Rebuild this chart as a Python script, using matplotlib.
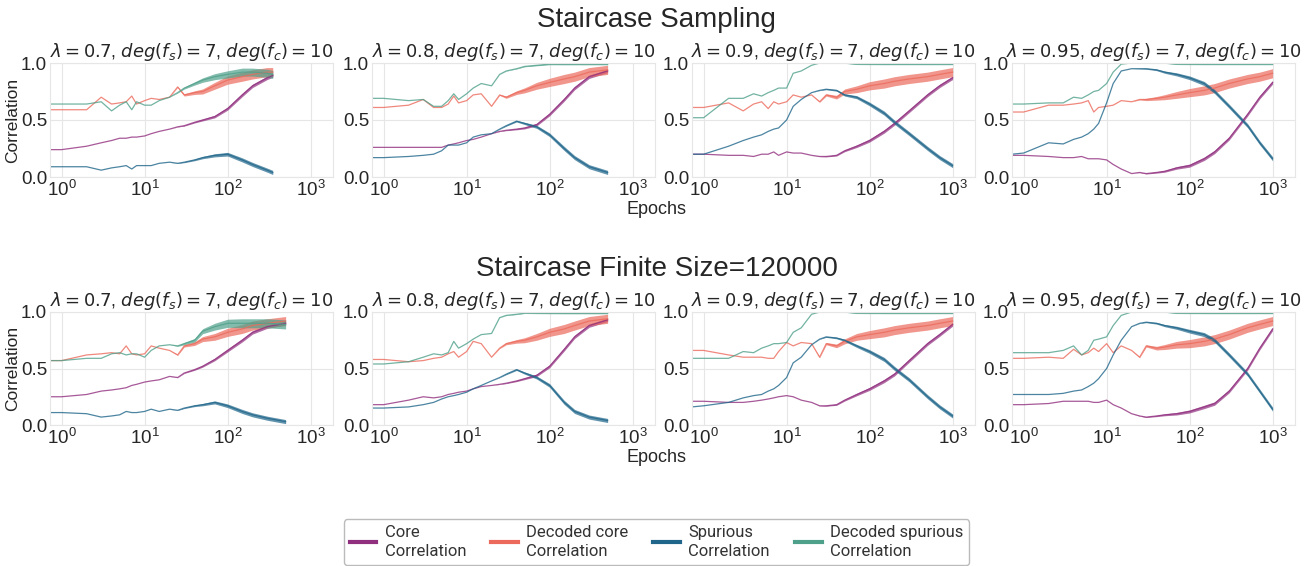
import matplotlib.pyplot as plt
import numpy as np
from matplotlib.lines import Line2D
from matplotlib.ticker import NullLocator

plt.rcParams['font.family'] = ['Liberation Sans', 'DejaVu Sans']

W, H = 1313, 566

lambdas = [0.7, 0.8, 0.9, 0.95]
row_titles = ["Staircase Sampling", "Staircase Finite Size=120000"]
labels = ["Core\nCorrelation", "Decoded core\nCorrelation", "Spurious\nCorrelation", "Decoded spurious\nCorrelation"]
colors = ["#912f7f", "#ec6a5c", "#1f668a", "#4fa08a"]

ep_short = [0.72, 1, 2, 3, 4, 5, 6, 7, 8, 10, 12, 15, 20, 25, 30, 40, 50, 70, 100, 150, 200, 300, 350]
ep_mid = [0.72, 1, 2, 3, 4, 5, 6, 7, 8, 10, 12, 15, 20, 25, 30, 40, 50, 70, 100, 150, 200, 300, 500]
ep_long = [0.72, 1, 2, 3, 4, 5, 6, 7, 8, 10, 12, 15, 20, 25, 30, 40, 50, 70, 100, 150, 200, 300, 500, 700, 1000]

sampling_epochs = [ep_short, ep_mid, ep_long, ep_long]
finite_epochs = [ep_mid, ep_mid, ep_long, ep_long]

# Staircase Sampling
sampling_core = [
    [0.24, 0.24, 0.27, 0.30, 0.32, 0.34, 0.34, 0.35, 0.35, 0.36, 0.38, 0.40, 0.42, 0.44, 0.45, 0.48, 0.50, 0.53, 0.60, 0.72, 0.80, 0.87, 0.89],
    [0.26, 0.26, 0.26, 0.26, 0.26, 0.26, 0.28, 0.29, 0.30, 0.32, 0.33, 0.35, 0.38, 0.40, 0.41, 0.42, 0.43, 0.46, 0.55, 0.68, 0.78, 0.88, 0.93],
    [0.20, 0.20, 0.19, 0.19, 0.18, 0.20, 0.20, 0.22, 0.19, 0.22, 0.21, 0.21, 0.19, 0.18, 0.18, 0.19, 0.23, 0.27, 0.32, 0.40, 0.47, 0.58, 0.72, 0.80, 0.87],
    [0.19, 0.19, 0.18, 0.17, 0.17, 0.18, 0.16, 0.16, 0.16, 0.15, 0.11, 0.07, 0.03, 0.04, 0.03, 0.04, 0.05, 0.08, 0.10, 0.16, 0.22, 0.34, 0.55, 0.70, 0.83],
]
sampling_dec_core = [
    [0.59, 0.59, 0.59, 0.70, 0.64, 0.65, 0.66, 0.71, 0.64, 0.67, 0.69, 0.68, 0.70, 0.79, 0.72, 0.74, 0.75, 0.80, 0.85, 0.88, 0.90, 0.92, 0.92],
    [0.61, 0.61, 0.63, 0.68, 0.61, 0.61, 0.64, 0.71, 0.65, 0.67, 0.72, 0.73, 0.62, 0.72, 0.70, 0.74, 0.76, 0.80, 0.83, 0.86, 0.88, 0.92, 0.94],
    [0.61, 0.61, 0.65, 0.58, 0.64, 0.66, 0.60, 0.66, 0.64, 0.66, 0.72, 0.70, 0.72, 0.66, 0.72, 0.70, 0.75, 0.77, 0.80, 0.82, 0.84, 0.86, 0.88, 0.90, 0.92],
    [0.57, 0.57, 0.63, 0.63, 0.64, 0.65, 0.67, 0.57, 0.61, 0.62, 0.63, 0.67, 0.66, 0.68, 0.68, 0.69, 0.70, 0.72, 0.74, 0.76, 0.78, 0.82, 0.86, 0.88, 0.91],
]
sampling_spur = [
    [0.09, 0.09, 0.09, 0.06, 0.08, 0.09, 0.10, 0.07, 0.10, 0.10, 0.10, 0.12, 0.13, 0.12, 0.13, 0.15, 0.17, 0.19, 0.20, 0.15, 0.11, 0.06, 0.04],
    [0.17, 0.17, 0.18, 0.19, 0.20, 0.23, 0.28, 0.28, 0.28, 0.30, 0.35, 0.37, 0.38, 0.42, 0.45, 0.49, 0.47, 0.44, 0.37, 0.25, 0.17, 0.09, 0.04],
    [0.20, 0.20, 0.27, 0.32, 0.35, 0.37, 0.40, 0.42, 0.43, 0.50, 0.62, 0.68, 0.74, 0.76, 0.77, 0.76, 0.72, 0.70, 0.64, 0.56, 0.48, 0.38, 0.25, 0.17, 0.10],
    [0.20, 0.21, 0.30, 0.29, 0.33, 0.35, 0.38, 0.42, 0.47, 0.65, 0.82, 0.93, 0.95, 0.95, 0.95, 0.94, 0.92, 0.90, 0.87, 0.82, 0.75, 0.62, 0.45, 0.30, 0.16],
]
sampling_dec_spur = [
    [0.64, 0.64, 0.64, 0.66, 0.58, 0.63, 0.66, 0.59, 0.66, 0.63, 0.63, 0.67, 0.70, 0.74, 0.78, 0.82, 0.85, 0.88, 0.90, 0.92, 0.92, 0.91, 0.90],
    [0.69, 0.69, 0.67, 0.68, 0.62, 0.62, 0.67, 0.73, 0.68, 0.73, 0.78, 0.82, 0.80, 0.90, 0.93, 0.95, 0.97, 0.98, 0.99, 0.99, 0.99, 0.99, 0.99],
    [0.52, 0.52, 0.69, 0.69, 0.73, 0.71, 0.74, 0.76, 0.78, 0.78, 0.91, 0.93, 0.98, 1.00, 1.00, 1.00, 1.00, 0.99, 0.99, 0.99, 0.99, 0.99, 0.99, 0.99, 0.99],
    [0.64, 0.64, 0.65, 0.65, 0.70, 0.69, 0.72, 0.75, 0.76, 0.82, 0.92, 0.99, 1.00, 1.00, 1.00, 1.00, 1.00, 0.99, 0.99, 0.99, 0.99, 0.99, 0.99, 0.99, 0.99],
]

# Staircase Finite Size=120000
finite_core = [
    [0.25, 0.25, 0.27, 0.30, 0.31, 0.32, 0.33, 0.35, 0.36, 0.38, 0.39, 0.40, 0.43, 0.42, 0.46, 0.49, 0.52, 0.58, 0.66, 0.75, 0.82, 0.87, 0.90],
    [0.18, 0.18, 0.22, 0.25, 0.24, 0.25, 0.27, 0.28, 0.29, 0.30, 0.32, 0.34, 0.35, 0.36, 0.37, 0.39, 0.41, 0.44, 0.52, 0.67, 0.78, 0.88, 0.93],
    [0.21, 0.21, 0.20, 0.20, 0.21, 0.22, 0.23, 0.24, 0.25, 0.26, 0.25, 0.22, 0.20, 0.17, 0.17, 0.18, 0.22, 0.27, 0.32, 0.39, 0.45, 0.57, 0.72, 0.80, 0.89],
    [0.18, 0.18, 0.19, 0.21, 0.21, 0.21, 0.21, 0.20, 0.20, 0.22, 0.18, 0.15, 0.10, 0.08, 0.07, 0.08, 0.09, 0.10, 0.12, 0.16, 0.19, 0.30, 0.50, 0.68, 0.85],
]
finite_dec_core = [
    [0.57, 0.57, 0.62, 0.63, 0.64, 0.63, 0.70, 0.63, 0.62, 0.63, 0.70, 0.68, 0.66, 0.62, 0.70, 0.72, 0.76, 0.78, 0.82, 0.85, 0.88, 0.90, 0.92],
    [0.58, 0.58, 0.56, 0.57, 0.59, 0.60, 0.63, 0.65, 0.60, 0.65, 0.74, 0.72, 0.60, 0.68, 0.72, 0.74, 0.75, 0.78, 0.82, 0.85, 0.88, 0.92, 0.94],
    [0.66, 0.66, 0.62, 0.60, 0.60, 0.60, 0.59, 0.59, 0.65, 0.73, 0.70, 0.73, 0.72, 0.60, 0.72, 0.70, 0.74, 0.78, 0.80, 0.82, 0.84, 0.86, 0.88, 0.90, 0.92],
    [0.59, 0.59, 0.60, 0.59, 0.67, 0.62, 0.64, 0.68, 0.65, 0.72, 0.64, 0.70, 0.66, 0.60, 0.70, 0.68, 0.69, 0.71, 0.72, 0.74, 0.76, 0.80, 0.86, 0.89, 0.92],
]
finite_spur = [
    [0.11, 0.11, 0.10, 0.07, 0.08, 0.09, 0.12, 0.11, 0.11, 0.12, 0.14, 0.12, 0.14, 0.13, 0.15, 0.17, 0.18, 0.20, 0.17, 0.12, 0.09, 0.06, 0.03],
    [0.15, 0.15, 0.16, 0.18, 0.20, 0.23, 0.25, 0.26, 0.27, 0.29, 0.32, 0.35, 0.39, 0.42, 0.45, 0.49, 0.46, 0.42, 0.35, 0.20, 0.12, 0.07, 0.04],
    [0.16, 0.17, 0.20, 0.24, 0.26, 0.27, 0.30, 0.32, 0.35, 0.42, 0.55, 0.60, 0.71, 0.76, 0.78, 0.77, 0.75, 0.70, 0.65, 0.58, 0.50, 0.40, 0.25, 0.16, 0.08],
    [0.27, 0.27, 0.27, 0.28, 0.30, 0.31, 0.34, 0.37, 0.41, 0.50, 0.62, 0.75, 0.87, 0.90, 0.91, 0.90, 0.88, 0.86, 0.83, 0.80, 0.75, 0.62, 0.45, 0.30, 0.14],
]
finite_dec_spur = [
    [0.57, 0.57, 0.59, 0.59, 0.63, 0.64, 0.62, 0.63, 0.63, 0.60, 0.66, 0.70, 0.71, 0.70, 0.72, 0.75, 0.83, 0.87, 0.90, 0.90, 0.90, 0.90, 0.89],
    [0.54, 0.54, 0.56, 0.60, 0.63, 0.62, 0.64, 0.74, 0.68, 0.72, 0.76, 0.80, 0.81, 0.95, 0.97, 0.98, 0.99, 0.99, 0.99, 0.99, 0.99, 0.99, 0.99],
    [0.59, 0.59, 0.59, 0.65, 0.64, 0.68, 0.70, 0.72, 0.72, 0.73, 0.82, 0.86, 0.98, 1.00, 1.00, 1.00, 1.00, 0.99, 0.99, 0.99, 0.99, 0.99, 0.99, 0.99, 0.99],
    [0.64, 0.64, 0.64, 0.66, 0.70, 0.62, 0.66, 0.75, 0.76, 0.78, 0.88, 0.97, 1.00, 1.00, 1.00, 1.00, 1.00, 0.99, 0.99, 0.99, 0.99, 0.99, 0.99, 0.99, 0.99],
]

# epoch-to-epoch jitter late in training: full half-width per curve
# (core, dec core, spur, dec spur) and how much of it shows at each epoch
sampling_jitter = [[0.015, 0.04, 0.018, 0.035], [0.015, 0.04, 0.018, 0.006],
                   [0.015, 0.04, 0.018, 0.005], [0.015, 0.04, 0.018, 0.005]]
finite_jitter = [[0.015, 0.04, 0.018, 0.04], [0.015, 0.04, 0.018, 0.006],
                 [0.015, 0.04, 0.018, 0.005], [0.015, 0.04, 0.018, 0.005]]
jitter_mid = [0, 0, 0, 0, 0, 0, 0, 0, 0, 0, 0, 0, 0, 0.1, 0.25, 0.4, 0.55, 0.75, 0.9, 1, 1, 1, 1]
jitter_long = [0, 0, 0, 0, 0, 0, 0, 0, 0, 0, 0, 0, 0, 0.1, 0.25, 0.4, 0.55, 0.75, 0.9, 1, 1, 1, 1, 1, 1]
jitter_shape = [jitter_mid, jitter_mid, jitter_long, jitter_long]

rows = [
    (sampling_epochs, [sampling_core, sampling_dec_core, sampling_spur, sampling_dec_spur], sampling_jitter),
    (finite_epochs, [finite_core, finite_dec_core, finite_spur, finite_dec_spur], finite_jitter),
]

left_px = [50, 372, 692, 1012]
width_px = 283
top_px = [63, 312]
bot_px = [177, 425]

fig = plt.figure(figsize=(W / 100, H / 100), dpi=100)

for r, (epochs, curves, jitter) in enumerate(rows):
    for i, lam in enumerate(lambdas):
        ax = fig.add_axes([left_px[i] / W, 1 - bot_px[r] / H,
                           width_px / W, (bot_px[r] - top_px[r]) / H])
        x = np.array(epochs[i], dtype=float)
        shape = np.array(jitter_shape[i])
        for k in range(4):
            y = np.array(curves[k][i])
            s = jitter[i][k] * shape
            ax.fill_between(x, y - s, y + s, color=colors[k], alpha=0.7, lw=0)
            ax.plot(x, y, color=colors[k], lw=0.9, alpha=0.8)
        ax.set_xscale('log')
        ax.set_xlim(10 ** -0.14, 10 ** 3.27)
        ax.set_ylim(0, 1)
        ax.set_xticks([1, 10, 100, 1000])
        ax.xaxis.set_minor_locator(NullLocator())
        ax.set_yticks([0, 0.5, 1.0])
        ax.set_yticklabels(["0.0", "0.5", "1.0"])
        ax.grid(True, color="#e6e6e6", lw=0.8)
        ax.set_axisbelow(True)
        for sp in ax.spines.values():
            sp.set_color("#e6e6e6")
            sp.set_linewidth(0.8)
        ax.tick_params(length=0, labelsize=13.5, pad=2, colors="#262626")
        ax.set_title(f"$\\lambda = {lam}$, $deg(f_s) = 7$, $deg(f_c) = 10$",
                     fontsize=13, pad=2, color="#262626")
    ymid = 1 - (top_px[r] + bot_px[r]) / 2 / H
    fig.text(13 / W, ymid, "Correlation", rotation=90, ha="center", va="center",
             fontsize=12.5, color="#262626")
    fig.text(656 / W, 1 - (bot_px[r] + 33) / H, "Epochs", ha="center", va="center",
             fontsize=13, color="#262626")
    fig.text(0.5, 1 - (top_px[r] - 43) / H, row_titles[r], ha="center", va="center",
             fontsize=20, color="#262626")

handles = [Line2D([0], [0], color=c, lw=3) for c in colors]
leg = fig.legend(handles, labels, loc="upper center", bbox_to_anchor=(0.5, 1 - 511 / H),
                 ncol=4, frameon=True, fancybox=True, handlelength=1.6,
                 handletextpad=0.5, columnspacing=1.5, borderpad=0.35,
                 prop={"family": "Roboto", "size": 12})
leg.get_frame().set_edgecolor("#aaaaaa")
for t in leg.get_texts():
    t.set_color("#333333")
    t.set_linespacing(1.35)

fig.savefig("out.png", dpi=100)
